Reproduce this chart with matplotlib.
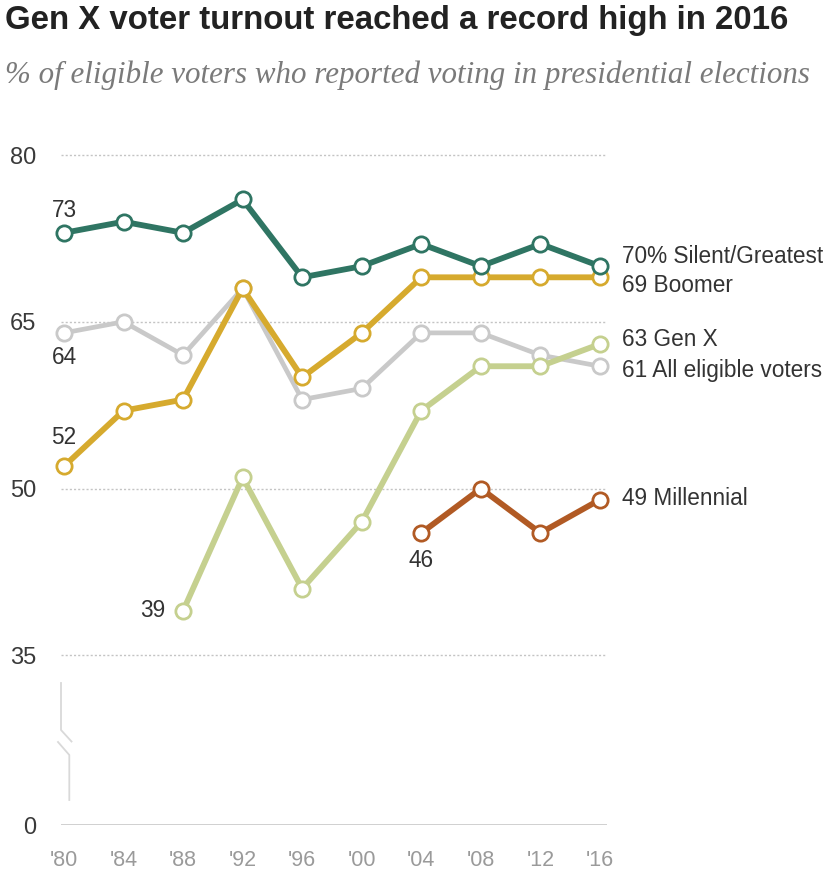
import matplotlib
matplotlib.use("Agg")
import matplotlib.pyplot as plt
from matplotlib.lines import Line2D

years = [1980, 1984, 1988, 1992, 1996, 2000, 2004, 2008, 2012, 2016]
year_labels = ["'80", "'84", "'88", "'92", "'96", "'00", "'04", "'08", "'12", "'16"]

silent = [73, 74, 73, 76, 69, 70, 72, 70, 72, 70]
boomer = [52, 57, 58, 68, 60, 64, 69, 69, 69, 69]
all_voters = [64, 65, 62, 68, 58, 59, 64, 64, 62, 61]
genx_years = [1988, 1992, 1996, 2000, 2004, 2008, 2012, 2016]
genx = [39, 51, 41, 47, 57, 61, 61, 63]
mill_years = [2004, 2008, 2012, 2016]
millennial = [46, 50, 46, 49]

y_ticks = [0, 35, 50, 65, 80]

# broken axis: values >= 35 linear; 0..35 compressed
BREAK = 35.0
ZERO_POS = 19.73
def ymap(v):
    if v >= BREAK:
        return v
    return ZERO_POS + v * (BREAK - ZERO_POS) / BREAK

W, H = 830, 872
fig = plt.figure(figsize=(W / 100, H / 100), dpi=100)
left_px, right_px = 61.0, 607.4
top_px, bot_px = 132.8, 825.0
ax = fig.add_axes([left_px / W, 1 - bot_px / H, (right_px - left_px) / W, (bot_px - top_px) / H])
ax.set_xlim(1979.8, 2016.5)
ax.set_ylim(ZERO_POS, 82)

for s in ax.spines.values():
    s.set_visible(False)

# gridlines
for t in y_ticks:
    if t == 0:
        ax.axhline(ymap(t), color="#c8c8c8", lw=1.2, zorder=0)
    else:
        ax.axhline(ymap(t), color="#c4c4c4", lw=1.0, ls=(0, (1.5, 1.5)), zorder=0)

ax.set_yticks([ymap(t) for t in y_ticks])
ax.set_yticklabels([str(t) for t in y_ticks])
ax.set_xticks(years)
ax.set_xticklabels(year_labels)
ax.tick_params(axis="y", length=0, pad=18, labelsize=17, labelcolor="#3a3a3a")
ax.tick_params(axis="x", length=0, pad=18, labelsize=15.5, labelcolor="#9a9a9a")
for lab in ax.get_yticklabels() + ax.get_xticklabels():
    lab.set_fontfamily("Liberation Sans")

series = [
    (years, all_voters, "#c9c9c9", 3.4, 2),
    (genx_years, genx, "#c5d08f", 4.2, 3),
    (years, boomer, "#d6aa2e", 4.2, 4),
    (mill_years, millennial, "#b15a24", 4.2, 5),
    (years, silent, "#2f7563", 4.2, 6),
]
for xs, vals, col, lw, z in series:
    ax.plot(xs, [ymap(v) for v in vals], color=col, lw=lw, zorder=z,
            marker="o", ms=11, mfc="white", mec=col, mew=2.0, clip_on=False,
            solid_joinstyle="miter")

lab_kw = dict(fontsize=16.3, color="#333333", family="Liberation Sans", textcoords="offset points")
# end labels
ax.annotate("70% Silent/Greatest", (years[-1], ymap(silent[-1])), xytext=(16, 7), va="center", **lab_kw)
ax.annotate(f"{boomer[-1]} Boomer", (years[-1], ymap(boomer[-1])), xytext=(16, -6), va="center", **lab_kw)
ax.annotate(f"{genx[-1]} Gen X", (genx_years[-1], ymap(genx[-1])), xytext=(16, 3), va="center", **lab_kw)
ax.annotate(f"{all_voters[-1]} All eligible voters", (years[-1], ymap(all_voters[-1])), xytext=(16, -3), va="center", **lab_kw)
ax.annotate(f"{millennial[-1]} Millennial", (mill_years[-1], ymap(millennial[-1])), xytext=(16, 1), va="center", **lab_kw)
# start labels
ax.annotate(f"{silent[0]}", (years[0], ymap(silent[0])), xytext=(0, 16), ha="center", va="center", **lab_kw)
ax.annotate(f"{all_voters[0]}", (years[0], ymap(all_voters[0])), xytext=(0, -18), ha="center", va="center", **lab_kw)
ax.annotate(f"{boomer[0]}", (years[0], ymap(boomer[0])), xytext=(0, 21), ha="center", va="center", **lab_kw)
ax.annotate(f"{genx[0]}", (genx_years[0], ymap(genx[0])), xytext=(-13, 0), ha="right", va="center", **lab_kw)
ax.annotate(f"{millennial[0]}", (mill_years[0], ymap(millennial[0])), xytext=(0, -20), ha="center", va="center", **lab_kw)

# axis break decoration (pixel positions -> figure fraction)
def P(x, y):
    return (x / W, 1 - y / H)
brk = "#d9d9d9"
for pts in [[(61, 683), (61, 730), (71.5, 741.5)], [(58, 742), (69.3, 755), (69.3, 800)]]:
    xs = [P(*p)[0] for p in pts]
    ys = [P(*p)[1] for p in pts]
    fig.add_artist(Line2D(xs, ys, transform=fig.transFigure, color=brk, lw=1.3))

# titles
fig.text(5 / W, 1 - 5 / H, "Gen X voter turnout reached a record high in 2016",
         fontsize=23.8, fontweight="bold", color="#222222", va="top", ha="left",
         family=["Liberation Sans Narrow", "Liberation Sans"])
fig.text(5 / W, 1 - 61 / H, "% of eligible voters who reported voting in presidential elections",
         fontsize=22.3, style="italic", color="#7a7a7a", va="top", ha="left",
         family=["Liberation Serif", "DejaVu Serif"])

fig.savefig("out.png", dpi=100, facecolor="white")
